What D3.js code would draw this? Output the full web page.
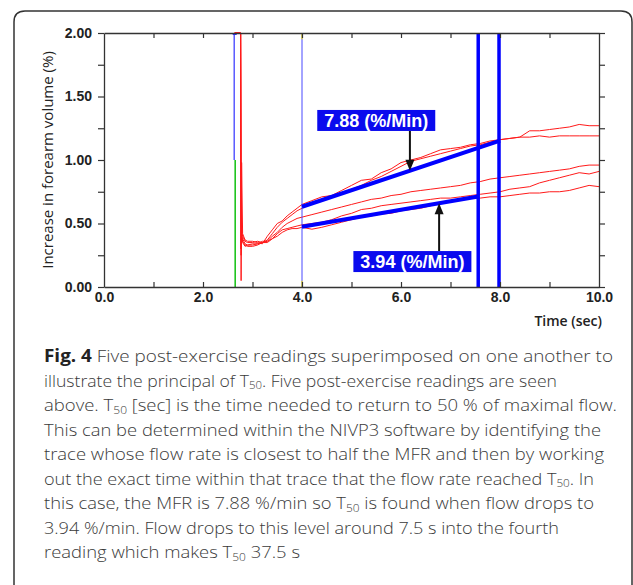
<!DOCTYPE html>
<html>
<head>
<meta charset="utf-8">
<script src="https://cdn.jsdelivr.net/npm/d3@7"></script>
<style>
body { margin: 0; background: #fff; }
svg { display: block; font-family: "Open Sans", sans-serif; }
</style>
</head>
<body>
<svg id="fig" width="633" height="585"></svg>
<script>
// readings (time in sec, increase in %)
var times = [2.64, 2.76, 2.77, 2.78, 2.80, 2.85, 2.90, 3.00, 3.10, 3.20, 3.30, 3.40, 3.50, 3.60, 3.70, 3.80, 3.90,
    4.00, 4.20, 4.40, 4.60, 4.80, 5.00, 5.20, 5.40, 5.60, 5.80, 6.00, 6.20, 6.40, 6.60, 6.80, 7.00, 7.20, 7.40,
    7.60, 7.80, 8.00, 8.20, 8.40, 8.60, 8.80, 9.00, 9.20, 9.40, 9.60, 9.80, 10.00];

var reading1 = [2.00, 2.00, 0.05, 0.98, 0.42, 0.37, 0.36, 0.36, 0.35, 0.34, 0.40, 0.45, 0.50, 0.52, 0.56, 0.59, 0.62,
    0.65, 0.68, 0.71, 0.72, 0.76, 0.80, 0.84, 0.85, 0.90, 0.93, 0.98, 1.00, 1.02, 1.05, 1.08, 1.09, 1.10, 1.12,
    1.13, 1.15, 1.16, 1.17, 1.18, 1.23, 1.23, 1.24, 1.25, 1.26, 1.28, 1.27, 1.27];
var reading2 = [2.00, 2.00, 0.30, 0.45, 0.40, 0.36, 0.35, 0.35, 0.36, 0.35, 0.37, 0.42, 0.47, 0.51, 0.54, 0.57, 0.60,
    0.62, 0.66, 0.69, 0.71, 0.73, 0.77, 0.80, 0.84, 0.87, 0.91, 0.95, 0.99, 1.01, 1.03, 1.05, 1.07, 1.09, 1.11,
    1.12, 1.14, 1.16, 1.17, 1.18, 1.18, 1.19, 1.18, 1.19, 1.19, 1.19, 1.19, 1.19];
var reading3 = [2.00, 2.00, 0.25, 0.40, 0.38, 0.34, 0.33, 0.33, 0.34, 0.36, 0.36, 0.40, 0.43, 0.47, 0.50, 0.52, 0.54,
    0.55, 0.57, 0.59, 0.61, 0.63, 0.65, 0.67, 0.69, 0.70, 0.72, 0.73, 0.75, 0.76, 0.77, 0.78, 0.79, 0.80, 0.82,
    0.83, 0.85, 0.86, 0.87, 0.88, 0.89, 0.90, 0.91, 0.92, 0.93, 0.95, 0.96, 0.96];
var reading4 = [2.00, 2.00, 0.30, 0.42, 0.36, 0.33, 0.32, 0.32, 0.33, 0.35, 0.35, 0.38, 0.42, 0.45, 0.46, 0.47, 0.48,
    0.49, 0.50, 0.51, 0.53, 0.56, 0.58, 0.61, 0.62, 0.64, 0.65, 0.66, 0.67, 0.68, 0.69, 0.70, 0.70, 0.71, 0.72,
    0.73, 0.74, 0.75, 0.77, 0.78, 0.79, 0.82, 0.84, 0.86, 0.88, 0.90, 0.89, 0.91];
var reading5 = [2.00, 2.00, 0.35, 0.40, 0.35, 0.32, 0.33, 0.34, 0.34, 0.35, 0.36, 0.38, 0.40, 0.43, 0.45, 0.46, 0.46,
    0.47, 0.455, 0.47, 0.49, 0.51, 0.53, 0.55, 0.56, 0.575, 0.58, 0.60, 0.61, 0.62, 0.64, 0.66, 0.67, 0.685, 0.70,
    0.70, 0.71, 0.71, 0.72, 0.73, 0.74, 0.74, 0.75, 0.75, 0.76, 0.78, 0.80, 0.79];

var readings = [reading1, reading2, reading3, reading4, reading5];

// flow rate fits (start/end time and value) and their labels
var fitStartT = [4.00, 4.00];
var fitEndT = [8.00, 7.56];
var fitStartV = [0.632, 0.475];
var fitEndV = [1.152, 0.712];
var fitLabels = ['7.88 (%/Min)', '3.94 (%/Min)'];
var arrowT = [6.18, 6.77];

// cursor lines
var startT = 2.64;
var windowT = 4.00;
var cutT = [7.56, 7.98];

// axes
var xTicks = [0, 1, 2, 3, 4, 5, 6, 7, 8, 9, 10];
var xLabels = [0, 2, 4, 6, 8, 10];
var yTicks = [0, 0.25, 0.5, 0.75, 1, 1.25, 1.5, 1.75, 2];
var yLabels = [0, 0.5, 1, 1.5, 2];
var xTitle = 'Time (sec)';
var yTitle = 'Increase in forearm volume (%)';

// caption, one entry per printed line
var caption = [
    [{t: 'Fig. 4', b: 1}, {t: ' Five post-exercise readings superimposed on one another to'}],
    [{t: 'illustrate the principal of T'}, {t: '50', s: 1}, {t: '. Five post-exercise readings are seen'}],
    [{t: 'above. T'}, {t: '50', s: 1}, {t: ' [sec] is the time needed to return to 50 % of maximal flow.'}],
    [{t: 'This can be determined within the NIVP3 software by identifying the'}],
    [{t: 'trace whose flow rate is closest to half the MFR and then by working'}],
    [{t: 'out the exact time within that trace that the flow rate reached T'}, {t: '50', s: 1}, {t: '. In'}],
    [{t: 'this case, the MFR is 7.88 %/min so T'}, {t: '50', s: 1}, {t: ' is found when flow drops to'}],
    [{t: '3.94 %/min. Flow drops to this level around 7.5 s into the fourth'}],
    [{t: 'reading which makes T'}, {t: '50', s: 1}, {t: ' 37.5 s'}]
];
var captionEnds = [613, 557, 617, 601, 604, 594, 594, 559, 300];


var svg = d3.select('#fig');

// rounded frame round figure + caption
svg.append('path')
    .attr('d', 'M14,600 L14,22 Q14,11 25,11 L621,11 Q632,11 632,22 L632,600')
    .attr('fill', 'none')
    .attr('stroke', '#333')
    .attr('stroke-width', 1.5);

var x = d3.scaleLinear().domain([0, 10]).range([104, 599]);
var y = d3.scaleLinear().domain([0, 2]).range([287, 33]);

svg.append('clipPath').attr('id', 'plot')
    .append('rect')
    .attr('x', x(0)).attr('y', y(2) - 2)
    .attr('width', x(10) - x(0)).attr('height', y(0) - y(2) + 2);

var plot = svg.append('g').attr('clip-path', 'url(#plot)');

// red readings
var line = d3.line()
    .x(function(d, i){ return x(times[i]); })
    .y(function(d){ return y(d); });

plot.selectAll('.reading')
    .data(readings).enter()
    .append('path')
    .attr('class', 'reading')
    .attr('d', line)
    .attr('fill', 'none')
    .attr('stroke', '#ff1a1a')
    .attr('stroke-width', 1);

// start marker: blue above, green below
plot.append('line')
    .attr('x1', x(startT) - 0.5).attr('x2', x(startT) - 0.5)
    .attr('y1', y(2)).attr('y2', y(1))
    .attr('stroke', '#3030ff').attr('stroke-width', 1.2);
plot.append('line')
    .attr('x1', x(startT) + 0.5).attr('x2', x(startT) + 0.5)
    .attr('y1', y(1)).attr('y2', y(0))
    .attr('stroke', '#10c010').attr('stroke-width', 1.5);
plot.append('rect')
    .attr('x', x(startT) - 2).attr('y', y(2))
    .attr('width', 4).attr('height', 2)
    .attr('fill', '#3030ff');

// window start marker with yellow ends
plot.append('line')
    .attr('x1', x(windowT)).attr('x2', x(windowT))
    .attr('y1', y(2)).attr('y2', y(0))
    .attr('stroke', '#4848ff').attr('stroke-width', 1);
[[2, 1.95], [0.05, 0]].forEach(function(r){
    plot.append('line')
        .attr('x1', x(windowT)).attr('x2', x(windowT))
        .attr('y1', y(r[0])).attr('y2', y(r[1]))
        .attr('stroke', '#f0e000').attr('stroke-width', 1.2);
});

// fitted slopes
fitStartT.forEach(function(t0, i){
    plot.append('line')
        .attr('x1', x(t0)).attr('y1', y(fitStartV[i]))
        .attr('x2', x(fitEndT[i])).attr('y2', y(fitEndV[i]))
        .attr('stroke', '#0000ff')
        .attr('stroke-width', 4);
});

// thick cut lines
plot.selectAll('.cut')
    .data(cutT).enter()
    .append('line')
    .attr('class', 'cut')
    .attr('x1', function(d){ return x(d); })
    .attr('x2', function(d){ return x(d); })
    .attr('y1', y(2)).attr('y2', y(0))
    .attr('stroke', '#0000ff')
    .attr('stroke-width', 3.5);

// axes
var axisCol = '#333';
function noLabel(){ return ''; }
function yFmt(d){ return yLabels.indexOf(d) >= 0 ? d3.format('.2f')(d) : ''; }
function xFmt(d){ return xLabels.indexOf(d) >= 0 ? d3.format('.1f')(d) : ''; }

var gl = svg.append('g').attr('transform', 'translate(' + x(0) + ',0)')
    .call(d3.axisLeft(y).tickValues(yTicks).tickFormat(yFmt).tickSize(6).tickSizeOuter(0).tickPadding(6));
var gr = svg.append('g').attr('transform', 'translate(' + x(10) + ',0)')
    .call(d3.axisRight(y).tickValues(yTicks).tickFormat(noLabel).tickSize(6).tickSizeOuter(0));
var gb = svg.append('g').attr('transform', 'translate(0,' + y(0) + ')')
    .call(d3.axisBottom(x).tickValues(xTicks).tickFormat(xFmt).tickSize(-5).tickSizeOuter(0).tickPadding(5));
var gt = svg.append('g').attr('transform', 'translate(0,' + y(2) + ')')
    .call(d3.axisTop(x).tickValues(xTicks).tickFormat(noLabel).tickSize(-5).tickSizeOuter(0));

[gl, gr, gb, gt].forEach(function(g){
    g.select('.domain').attr('stroke', axisCol).attr('stroke-width', 1.3);
    g.selectAll('.tick line').attr('stroke', axisCol).attr('stroke-width', 1.2);
    g.selectAll('.tick text')
        .attr('fill', '#222')
        .style('font-size', '14px')
        .style('font-weight', 'bold');
});
// the ticks at 0 and 10 on x would sit on the frame, drop them
gb.selectAll('.tick line').filter(function(d){ return d === 0 || d === 10; }).remove();
gt.selectAll('.tick line').filter(function(d){ return d === 0 || d === 10; }).remove();

svg.append('text')
    .attr('transform', 'translate(53,' + ((y(0) + y(2)) / 2) + ') rotate(-90)')
    .attr('text-anchor', 'middle')
    .attr('fill', '#222')
    .style('font-size', '15px')
    .text(yTitle);

svg.append('text')
    .attr('x', 602).attr('y', 326)
    .attr('text-anchor', 'end')
    .attr('fill', '#222')
    .style('font-size', '14px')
    .style('font-weight', 600)
    .text(xTitle);

// rate labels with arrows
var boxes = [{cx: 5.5, top: 1.394}, {cx: 6.23, top: 0.283}];
var boxW = 118, boxH = 21;

fitLabels.forEach(function(label, i){
    var bx = x(boxes[i].cx) - boxW / 2;
    var by = y(boxes[i].top);
    var f = (arrowT[i] - fitStartT[i]) / (fitEndT[i] - fitStartT[i]);
    var tipV = d3.interpolateNumber(fitStartV[i], fitEndV[i])(f);
    var ax = x(arrowT[i]);
    var tipY = y(tipV);
    var fromY = tipY < by ? by : by + boxH;
    var dir = tipY > fromY ? 1 : -1;

    svg.append('line')
        .attr('x1', ax).attr('y1', fromY)
        .attr('x2', ax).attr('y2', tipY - dir * 10)
        .attr('stroke', '#111')
        .attr('stroke-width', 2);
    svg.append('path')
        .attr('d', 'M' + (ax - 4.5) + ',' + (tipY - dir * 11) + 'L' + (ax + 4.5) + ',' + (tipY - dir * 11) +
            'L' + ax + ',' + tipY + 'Z')
        .attr('fill', '#111');

    svg.append('rect')
        .attr('x', bx).attr('y', by)
        .attr('width', boxW).attr('height', boxH)
        .attr('fill', '#0a0aee');
    svg.append('text')
        .attr('x', bx + boxW / 2).attr('y', by + boxH - 4)
        .attr('text-anchor', 'middle')
        .attr('fill', '#fff')
        .style('font-family', '"Liberation Sans", Arial, sans-serif')
        .style('font-size', '18px')
        .style('font-weight', 'bold')
        .text(label);
});

// caption
var capX = 44, capY0 = 362, capStep = 24.5;
caption.forEach(function(parts, i){
    var txt = svg.append('text')
        .attr('x', capX)
        .attr('y', capY0 + i * capStep)
        .attr('fill', '#3a3a3a')
        .style('font-size', '17px')
        .style('font-weight', 300)
        .attr('textLength', captionEnds[i] - capX)
        .attr('lengthAdjust', 'spacingAndGlyphs');
    var shift = 0;
    parts.forEach(function(p){
        var ts = txt.append('tspan').text(p.t);
        if (p.b) ts.style('font-weight', 'bold').attr('fill', '#222');
        if (p.s) {
            ts.style('font-size', '11px').attr('dy', 2.5);
            shift = 2.5;
        } else if (shift) {
            ts.attr('dy', -shift);
            shift = 0;
        }
    });
});
</script>
</body>
</html>
